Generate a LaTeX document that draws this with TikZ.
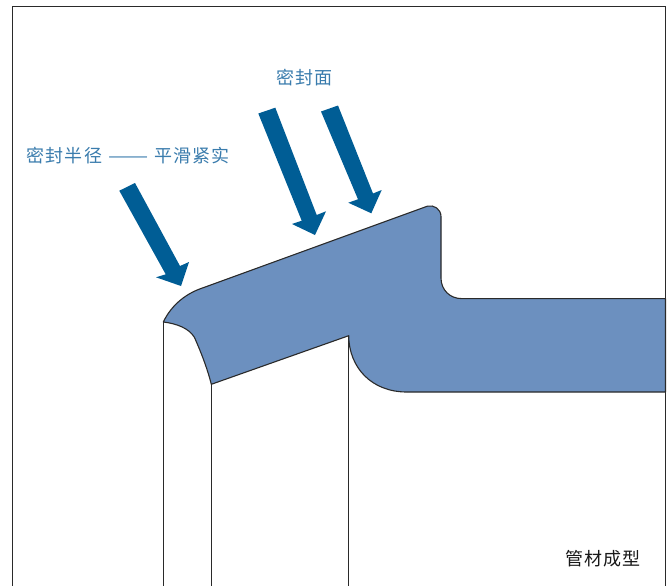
\documentclass[tikz,border=0pt]{standalone}
\usepackage{fontspec}
\usepackage{graphicx}
\newfontfamily\cjk[LetterSpace=6.5]{Noto Sans CJK SC}
\definecolor{bodyblue}{HTML}{6C90BF}
\definecolor{arrowblue}{HTML}{005D95}
\definecolor{labelblue}{HTML}{3A7CAD}
\definecolor{inkline}{HTML}{2A2A2A}
\tikzset{
  outline/.style={draw=inkline,line width=1.1pt,line join=round},
  fatarrow/.style={fill=arrowblue,draw=none},
  bluelabel/.style={text=labelblue,font=\cjk\fontsize{18}{18}\selectfont,inner sep=0pt},
  blacklabel/.style={text=black!90,font=\cjk\fontsize{18}{18}\selectfont,inner sep=0pt}
}
\begin{document}
\begin{tikzpicture}[x=1pt,y=-1pt]
\useasboundingbox (0,0) rectangle (672,586);
\fill[white] (0,0) rectangle (672,586);
% frame
\draw[draw=inkline,line width=1.1pt] (12.5,586) -- (12.5,6.2) -- (665.5,6.2) -- (665.5,586);
% pipe walls
\draw[outline] (163.3,322) -- (163.3,586);
\draw[outline] (211.3,384.3) -- (211.3,586);
\draw[outline] (348.7,335.7) -- (348.7,586);
% formed end
\draw[outline,fill=bodyblue]
  (163.3,322) .. controls (172,304) and (187,293) .. (203.3,287.7)
  -- (427.3,206.2) .. controls (434,204.5) and (441,209) .. (441,216.7)
  -- (441,278) .. controls (441,290) and (450,298.6) .. (461.7,298.6)
  -- (665.5,298.6) -- (665.5,392)
  -- (406.7,392) .. controls (372,392) and (349,368) .. (348.7,335.7)
  -- (211.3,384.3) .. controls (207,367) and (200,350) .. (194.5,337.5)
  .. controls (189,328) and (176,323.5) .. (163.3,322) -- cycle;
% arrows
\fill[fatarrow] (119.3,190.7) -- (135,183) -- (180,266) -- (189,262) -- (181,286) -- (156,277.3) -- (165.7,274.3) -- cycle;
\fill[fatarrow] (258.3,113.5) -- (275.3,107.7) -- (316.7,215) -- (326,211.3) -- (315,235) -- (292,224) -- (301.7,220.7) -- cycle;
\fill[fatarrow] (321,111.5) -- (338,105.5) -- (373,193.5) -- (381.7,190) -- (371.3,213.3) -- (348.3,202.7) -- (358,199.3) -- cycle;
% labels
\node[bluelabel,anchor=west] (seal) at (276.2,77.5) {密封面};
\node[bluelabel,anchor=west] (radius) at (26.3,155.5) {密封半径\kern 6.2pt\scalebox{1.33}[1]{——}\kern 6pt平滑紧实};
\node[blacklabel,anchor=west] (tube) at (564.8,559) {管材成型};
\end{tikzpicture}
\end{document}
